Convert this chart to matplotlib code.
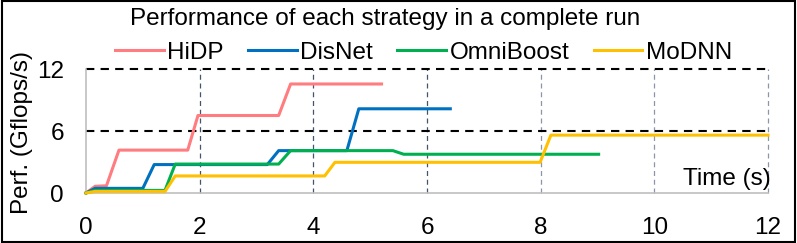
import matplotlib.pyplot as plt

plt.rcParams['font.family'] = ['Liberation Sans', 'DejaVu Sans']

# step curves (time in s, perf in Gflops/s)
hidp_t = [0, 0.16, 0.36, 0.58, 1.79, 1.97, 3.39, 3.6, 5.2]
hidp_p = [0, 0.65, 0.7, 4.15, 4.15, 7.5, 7.5, 10.55, 10.55]

disnet_t = [0, 0.16, 1.0, 1.2, 3.19, 3.39, 4.59, 4.8, 6.41]
disnet_p = [0, 0.45, 0.45, 2.75, 2.75, 4.1, 4.1, 8.15, 8.15]

omni_t = [0, 0.16, 1.39, 1.57, 3.39, 3.6, 5.4, 5.59, 9.02]
omni_p = [0, 0.25, 0.25, 2.8, 2.8, 4.1, 4.1, 3.75, 3.75]

modnn_t = [0, 0.16, 1.39, 1.57, 4.2, 4.38, 7.99, 8.18, 12]
modnn_p = [0, 0.15, 0.15, 1.65, 1.65, 2.97, 2.97, 5.6, 5.6]

names = ['HiDP', 'DisNet', 'OmniBoost', 'MoDNN']
colors = ['#FF7C80', '#0070C0', '#00B050', '#FFC000']

xticks = [0, 2, 4, 6, 8, 10, 12]
yticks = [0, 6, 12]

fs = 17.5
fig = plt.figure(figsize=(7.97, 2.43), dpi=100)
ax = fig.add_axes([86 / 797, 1 - 193 / 243, 682 / 797, 124 / 243])

# grid lines (not clipped so the ones on the edge show whole)
for x in xticks[1:]:
    c = '#44546A' if x <= 6 else '#8c96a8'
    ax.axvline(x, color=c, lw=0.9, ls=(0, (4, 3)), zorder=1, clip_on=False)
for y in yticks[1:]:
    ax.axhline(y, color='black', lw=1.5, ls=(0, (4, 3)), zorder=1, clip_on=False)

series = [(hidp_t, hidp_p), (disnet_t, disnet_p), (omni_t, omni_p), (modnn_t, modnn_p)]
handles = []
for (t, p), name, col in zip(series, names, colors):
    h, = ax.plot(t, p, color=col, lw=2.2, label=name, zorder=3, clip_on=False)
    handles.append(h)

ax.set_xlim(0, 12)
ax.set_ylim(0, 12)
ax.set_xticks(xticks)
ax.set_yticks(yticks)
ax.tick_params(length=0, labelsize=fs)
ax.tick_params(axis='x', pad=17)
ax.tick_params(axis='y', pad=16)

for s in ['top', 'right']:
    ax.spines[s].set_visible(False)
for s in ['left', 'bottom']:
    ax.spines[s].set_color('#bfbfbf')
    ax.spines[s].set_linewidth(1.2)

ax.text(12.04, 1.35, 'Time (s)', ha='right', va='center', fontsize=fs)
fig.text(22 / 797, 1 - 133 / 243, 'Perf. (Gflops/s)', rotation=90,
         ha='center', va='center', fontsize=fs)
fig.text(385 / 797, 1 - 19 / 243, 'Performance of each strategy in a complete run',
         ha='center', va='center', fontsize=fs)

fig.legend(handles=handles, ncol=4, loc='center left', frameon=False,
           bbox_to_anchor=(115 / 797, 1 - 53 / 243), fontsize=fs,
           handlelength=2.0, handletextpad=0.15, columnspacing=1.0,
           borderaxespad=0, borderpad=0)

# border round the whole figure
fig.patches.append(plt.Rectangle((0.002, 0.004), 0.996, 0.992, transform=fig.transFigure,
                                 fill=False, edgecolor='black', lw=1.5))

fig.savefig('out.png', dpi=100)
